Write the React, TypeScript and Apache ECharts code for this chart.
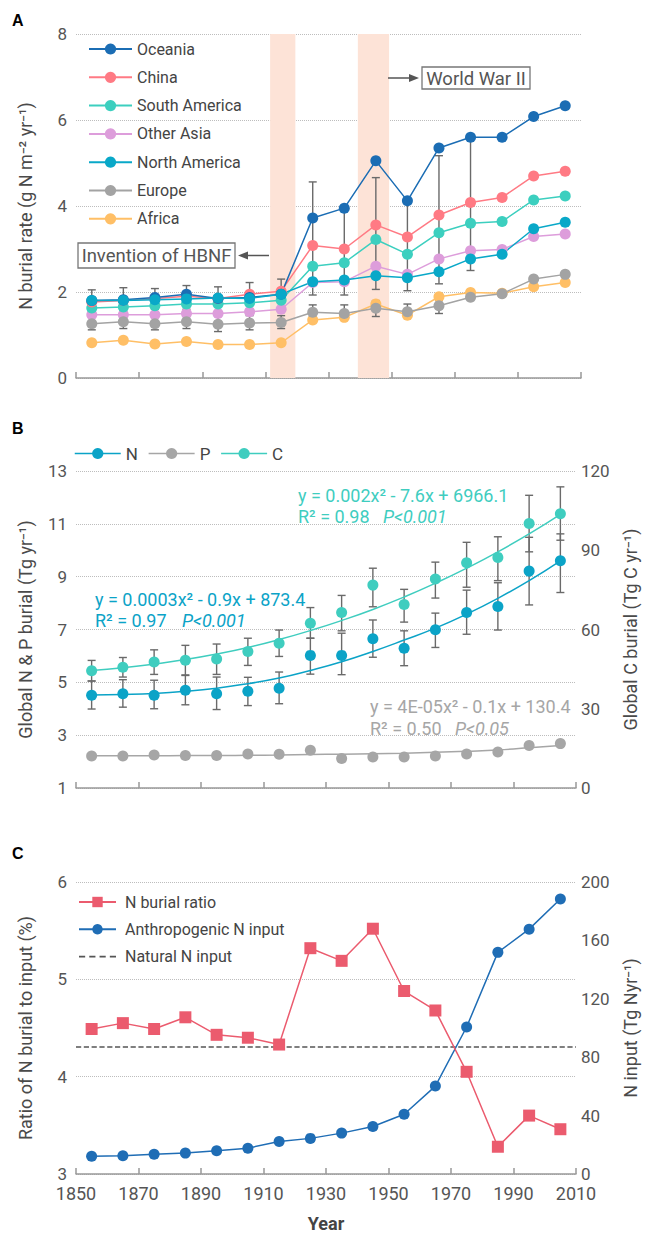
import React, { useEffect, useRef } from "react";
import * as echarts from "echarts";

// ---------- shared ----------
const years = [1855, 1865, 1875, 1885, 1895, 1905, 1915, 1925, 1935, 1945, 1955, 1965, 1975, 1985, 1995, 2005];

// ---------- Panel A: N burial rate by region ----------
const regionNames = ["Oceania", "China", "South America", "Other Asia", "North America", "Europe", "Africa"];
const oceania = [1.8, 1.82, 1.87, 1.95, 1.85, 1.87, 1.95, 3.72, 3.95, 5.05, 4.12, 5.35, 5.6, 5.6, 6.08, 6.33];
const china = [1.77, 1.8, 1.85, 1.9, 1.85, 1.95, 2.02, 3.08, 3.0, 3.56, 3.28, 3.79, 4.08, 4.2, 4.7, 4.81];
const southAmerica = [1.63, 1.65, 1.68, 1.72, 1.72, 1.75, 1.81, 2.6, 2.68, 3.22, 2.88, 3.38, 3.6, 3.64, 4.14, 4.23];
const otherAsia = [1.47, 1.47, 1.47, 1.5, 1.5, 1.54, 1.6, 2.22, 2.24, 2.6, 2.41, 2.77, 2.96, 2.99, 3.29, 3.35];
const northAmerica = [1.8, 1.8, 1.82, 1.84, 1.86, 1.85, 1.95, 2.24, 2.28, 2.38, 2.33, 2.47, 2.77, 2.88, 3.47, 3.62];
const europe = [1.26, 1.31, 1.26, 1.31, 1.25, 1.28, 1.29, 1.53, 1.5, 1.62, 1.54, 1.68, 1.88, 1.96, 2.3, 2.41];
const africa = [0.82, 0.88, 0.79, 0.85, 0.78, 0.78, 0.82, 1.35, 1.41, 1.72, 1.46, 1.89, 1.99, 1.97, 2.12, 2.22];
const errA1Low = [1.55, 1.55, 1.6, 1.6, 1.55, 1.6, 1.65, 1.93, 1.93, 2.06, 2.03, 2.19, 2.5, null, null, null];
const errA1High = [2.05, 2.1, 2.08, 2.15, 2.12, 2.22, 2.3, 4.56, 3.95, 4.66, 4.12, 5.17, 5.6, null, null, null];
const errA2Low = [1.12, 1.15, 1.12, 1.15, 1.08, 1.12, 1.15, 1.42, 1.4, 1.43, 1.45, 1.5, null, null, null, null];
const errA2High = [1.45, 1.5, 1.45, 1.5, 1.45, 1.45, 1.45, 1.7, 1.7, 1.8, 1.72, 1.8, null, null, null, null];
const hbnfBand = [1911.5, 1919.5];
const ww2Band = [1939.3, 1949.2];

// ---------- Panel B: global N, P, C burial ----------
const nBurial = [4.51, 4.57, 4.51, 4.7, 4.57, 4.66, 4.78, 6.02, 6.02, 6.65, 6.29, 6.99, 7.64, 7.87, 9.21, 9.6];
const nLow = [3.99, 4.06, 4.0, 4.15, 3.97, 4.12, 4.19, 5.31, 5.29, 5.95, 5.63, 6.32, 6.82, 6.98, 7.93, 8.4];
const nHigh = [5.05, 5.1, 5.08, 5.26, 5.2, 5.19, 5.39, 6.67, 6.86, 7.36, 6.95, 7.62, 8.49, 8.77, 10.49, 10.62];
const pBurial = [2.21, 2.21, 2.25, 2.23, 2.23, 2.29, 2.28, 2.43, 2.12, 2.17, 2.17, 2.21, 2.29, 2.36, 2.61, 2.68];
const cBurial = [44.4, 45.7, 47.7, 48.4, 48.8, 51.7, 54.8, 62.4, 66.4, 76.8, 69.5, 79.1, 85.3, 87.3, 100.1, 103.8];
const cLow = [40.5, 42.0, 43.0, 42.8, 43.0, 46.4, 49.8, 56.7, 59.5, 68.6, 62.8, 71.9, 76.0, 78.5, 89.4, 93.8];
const cHigh = [48.3, 49.4, 52.3, 54.0, 54.5, 56.7, 59.8, 68.3, 72.9, 83.2, 75.2, 85.5, 93.0, 95.1, 110.8, 114.0];
const nFit = [4.52, 4.54, 4.58, 4.66, 4.78, 4.95, 5.16, 5.45, 5.78, 6.17, 6.6, 7.05, 7.58, 8.18, 8.85, 9.6];
const pFit = [2.22, 2.22, 2.22, 2.23, 2.23, 2.24, 2.25, 2.27, 2.28, 2.3, 2.32, 2.35, 2.39, 2.44, 2.52, 2.61];
const cFit = [44.5, 45.5, 46.9, 48.6, 50.7, 53.2, 56.2, 59.6, 63.4, 67.6, 72.3, 77.5, 83.2, 89.4, 96.2, 103.6];

// ---------- Panel C: ratio and N input ----------
const burialRatio = [4.49, 4.55, 4.49, 4.61, 4.43, 4.4, 4.33, 5.32, 5.19, 5.52, 4.88, 4.68, 4.05, 3.28, 3.6, 3.46];
const anthroInput = [12.1, 12.5, 13.6, 14.3, 15.9, 17.7, 22.3, 24.4, 28.0, 32.5, 40.9, 60.2, 100.7, 151.8, 167.7, 188.4];
const naturalInput = 87;
const xRange = [1850, 2010];

const colors: Record<string, string> = {
  Oceania: "#1b6db4",
  China: "#ff7a84",
  "South America": "#3ccfbf",
  "Other Asia": "#dd9ddb",
  "North America": "#09a8c8",
  Europe: "#a3a3a3",
  Africa: "#ffbf66",
};
const N_COLOR = "#0ba3c7";
const P_COLOR = "#a6a6a6";
const C_COLOR = "#3fcdbf";
const RATIO_COLOR = "#eb5b6e";
const INPUT_COLOR = "#1f6db5";
const FONT = "Roboto";
const DASH_ICON = "path://M0,0h6v1.6h-6z M10,0h6v1.6h-6z M20,0h6v1.6h-6z M30,0h6v1.6h-6z";

const pairs = (ys: (number | null)[]) => years.map((y, i) => [y, ys[i]]);
const triples = (lo: (number | null)[], hi: (number | null)[]) =>
  years.map((y, i) => [y, lo[i], hi[i]]).filter((d) => d[1] != null && d[2] != null);

const errRender = (params: any, api: any) => {
  const x = api.value(0);
  const lo = api.coord([x, api.value(1)]);
  const hi = api.coord([x, api.value(2)]);
  const w = 4;
  const style = { stroke: "#6a6a6a", lineWidth: 1.4 };
  return {
    type: "group",
    children: [
      { type: "line", shape: { x1: lo[0], y1: lo[1], x2: hi[0], y2: hi[1] }, style },
      { type: "line", shape: { x1: lo[0] - w, y1: lo[1], x2: lo[0] + w, y2: lo[1] }, style },
      { type: "line", shape: { x1: hi[0] - w, y1: hi[1], x2: hi[0] + w, y2: hi[1] }, style },
    ],
  };
};

const regionData: Record<string, number[]> = {
  Oceania: oceania,
  China: china,
  "South America": southAmerica,
  "Other Asia": otherAsia,
  "North America": northAmerica,
  Europe: europe,
  Africa: africa,
};
const drawOrder = ["Africa", "Other Asia", "South America", "China", "Oceania", "North America", "Europe"];

const axisLabelStyle = { fontSize: 17, color: "#555", fontFamily: FONT };
const nameStyle = { fontSize: 18, color: "#4a4a4a", fontFamily: FONT };
const splitDotted = { show: true, lineStyle: { type: "dotted", color: "#bdbdbd", width: 1 } };

function txt(text: string, x: number, y: number, fill: string, extra: any = {}) {
  return {
    type: "text",
    x,
    y,
    silent: true,
    style: {
      text,
      fill,
      font: extra.font || `18px ${FONT}`,
      textAlign: extra.align || "left",
      textVerticalAlign: "middle",
      align: extra.align || "left",
      verticalAlign: "middle",
    },
  };
}

export default function App() {
  const ref = useRef<HTMLDivElement>(null);
  useEffect(() => {
    if (!ref.current) return;
    const chart = echarts.init(ref.current, null, { renderer: "svg" });

    const xAxes = [0, 1, 2].map((i) => ({
      gridIndex: i,
      type: "value",
      min: xRange[0],
      max: xRange[1],
      interval: 20,
      axisLine: { show: true, onZero: false, lineStyle: { color: "#999", width: 1.5 } },
      axisTick: { show: true, inside: true, length: 6, lineStyle: { color: "#999", width: 1.5 } },
      splitLine: { show: false },
      axisLabel:
        i === 2
          ? { show: true, fontSize: 18, color: "#555", margin: 10, fontFamily: FONT, formatter: (v: number) => String(v) }
          : { show: false },
      name: i === 2 ? "Year" : "",
      nameLocation: "middle",
      nameGap: 40,
      nameTextStyle: { fontSize: 18, fontWeight: "bold", color: "#444", fontFamily: FONT },
    }));

    const leftY = (grid: number, min: number, max: number, interval: number, name: string) => ({
      gridIndex: grid,
      type: "value",
      position: "left",
      min,
      max,
      interval,
      axisLine: { show: false },
      axisTick: { show: false },
      axisLabel: { ...axisLabelStyle, margin: 9 },
      splitLine: splitDotted,
      name,
      nameLocation: "middle",
      nameRotate: 90,
      nameGap: 42,
      nameTextStyle: nameStyle,
    });
    const rightY = (grid: number, min: number, max: number, interval: number, name: string) => ({
      gridIndex: grid,
      type: "value",
      position: "right",
      min,
      max,
      interval,
      axisLine: { show: false },
      axisTick: { show: false },
      axisLabel: { ...axisLabelStyle, margin: 5 },
      splitLine: { show: false },
      name,
      nameLocation: "middle",
      nameRotate: 90,
      nameGap: 45,
      nameTextStyle: nameStyle,
    });

    const series: any[] = [];
    // bands (panel A)
    series.push({
      type: "line",
      name: "bands",
      xAxisIndex: 0,
      yAxisIndex: 0,
      data: pairs(africa),
      showSymbol: false,
      silent: true,
      lineStyle: { opacity: 0 },
      z: 1,
      markArea: {
        silent: true,
        itemStyle: { color: "#fde3d7" },
        data: [
          [{ xAxis: hbnfBand[0] }, { xAxis: hbnfBand[1] }],
          [{ xAxis: ww2Band[0] }, { xAxis: ww2Band[1] }],
        ],
      },
    });
    series.push({ type: "custom", name: "errA1", xAxisIndex: 0, yAxisIndex: 0, renderItem: errRender, data: triples(errA1Low, errA1High), encode: { x: 0, y: [1, 2] }, silent: true, z: 2 });
    series.push({ type: "custom", name: "errA2", xAxisIndex: 0, yAxisIndex: 0, renderItem: errRender, data: triples(errA2Low, errA2High), encode: { x: 0, y: [1, 2] }, silent: true, z: 2 });
    drawOrder.forEach((n) => {
      series.push({
        type: "line",
        name: n,
        xAxisIndex: 0,
        yAxisIndex: 0,
        data: pairs(regionData[n]),
        symbol: "circle",
        symbolSize: 11,
        color: colors[n],
        lineStyle: { width: 1.5, color: colors[n] },
        itemStyle: { color: colors[n] },
        z: 3,
      });
    });

    // Panel B
    series.push({ type: "custom", name: "errN", xAxisIndex: 1, yAxisIndex: 1, renderItem: errRender, data: triples(nLow, nHigh), encode: { x: 0, y: [1, 2] }, silent: true, z: 2 });
    series.push({ type: "custom", name: "errC", xAxisIndex: 1, yAxisIndex: 2, renderItem: errRender, data: triples(cLow, cHigh), encode: { x: 0, y: [1, 2] }, silent: true, z: 2 });
    series.push({ type: "line", name: "N fit", xAxisIndex: 1, yAxisIndex: 1, data: pairs(nFit), smooth: true, showSymbol: false, lineStyle: { width: 1.5, color: N_COLOR }, z: 3 });
    series.push({ type: "line", name: "P fit", xAxisIndex: 1, yAxisIndex: 1, data: pairs(pFit), smooth: true, showSymbol: false, lineStyle: { width: 1.5, color: P_COLOR }, z: 3 });
    series.push({ type: "line", name: "C fit", xAxisIndex: 1, yAxisIndex: 2, data: pairs(cFit), smooth: true, showSymbol: false, lineStyle: { width: 1.5, color: C_COLOR }, z: 3 });
    [
      ["N", nBurial, N_COLOR, 1],
      ["P", pBurial, P_COLOR, 1],
      ["C", cBurial, C_COLOR, 2],
    ].forEach(([n, d, c, yi]: any) => {
      series.push({
        type: "line",
        name: n,
        xAxisIndex: 1,
        yAxisIndex: yi,
        data: pairs(d),
        symbol: "circle",
        symbolSize: 11,
        color: c,
        itemStyle: { color: c },
        lineStyle: { width: 1.5, color: c, opacity: 0 },
        z: 4,
      });
    });

    // Panel C
    series.push({
      type: "line",
      name: "Natural N input",
      xAxisIndex: 2,
      yAxisIndex: 4,
      data: [
        [xRange[0], naturalInput],
        [xRange[1], naturalInput],
      ],
      showSymbol: false,
      symbol: "none",
      color: "#555",
      itemStyle: { color: "#555" },
      lineStyle: { type: "dashed", width: 1.3, color: "#555" },
      z: 2,
    });
    series.push({
      type: "line",
      name: "Anthropogenic N input",
      xAxisIndex: 2,
      yAxisIndex: 4,
      data: pairs(anthroInput),
      symbol: "circle",
      symbolSize: 11,
      color: INPUT_COLOR,
      itemStyle: { color: INPUT_COLOR },
      lineStyle: { width: 1.5, color: INPUT_COLOR },
      z: 3,
    });
    series.push({
      type: "line",
      name: "N burial ratio",
      xAxisIndex: 2,
      yAxisIndex: 3,
      data: pairs(burialRatio),
      symbol: "rect",
      symbolSize: 12,
      color: RATIO_COLOR,
      itemStyle: { color: RATIO_COLOR },
      lineStyle: { width: 1.5, color: RATIO_COLOR },
      z: 3,
    });

    const graphic: any[] = [
      txt("A", 12, 20, "#000", { font: `bold 16px "Liberation Sans"` }),
      txt("B", 12, 428, "#000", { font: `bold 16px "Liberation Sans"` }),
      txt("C", 12, 853, "#000", { font: `bold 16px "Liberation Sans"` }),
      // HBNF annotation
      { type: "rect", silent: true, shape: { x: 78, y: 243, width: 157, height: 25 }, style: { fill: "#fff", stroke: "#777", lineWidth: 1.3 }, z: 10 },
      { ...txt("Invention of HBNF", 156.5, 256, "#555", { align: "center", font: `18.5px ${FONT}` }), z: 11 },
      { type: "line", silent: true, shape: { x1: 269, y1: 255.5, x2: 245, y2: 255.5 }, style: { stroke: "#555", lineWidth: 1.5 }, z: 10 },
      { type: "polygon", silent: true, shape: { points: [[238, 255.5], [248, 251.5], [248, 259.5]] }, style: { fill: "#555" }, z: 10 },
      // WWII annotation
      { type: "rect", silent: true, shape: { x: 422, y: 67, width: 108, height: 22 }, style: { fill: "#fff", stroke: "#777", lineWidth: 1.3 }, z: 10 },
      { ...txt("World War II", 476, 78.5, "#555", { align: "center", font: `18.5px ${FONT}` }), z: 11 },
      { type: "line", silent: true, shape: { x1: 388, y1: 78, x2: 412, y2: 78 }, style: { stroke: "#555", lineWidth: 1.5 }, z: 10 },
      { type: "polygon", silent: true, shape: { points: [[419, 78], [409, 74], [409, 82]] }, style: { fill: "#555" }, z: 10 },
      // equations
      txt("y = 0.002x² - 7.6x + 6966.1", 298, 495, C_COLOR),
      txt("R² = 0.98", 298, 516, C_COLOR),
      txt("P<0.001", 383, 516, C_COLOR, { font: `italic 18px ${FONT}` }),
      txt("y = 0.0003x² - 0.9x + 873.4", 95, 599, N_COLOR),
      txt("R² = 0.97", 95, 620, N_COLOR),
      txt("P<0.001", 182, 620, N_COLOR, { font: `italic 18px ${FONT}` }),
      txt("y = 4E-05x² - 0.1x + 130.4", 370, 706, P_COLOR),
      txt("R² = 0.50", 370, 728, P_COLOR),
      txt("P<0.05", 455, 728, P_COLOR, { font: `italic 18px ${FONT}` }),
    ];

    chart.setOption({
      animation: false,
      textStyle: { fontFamily: FONT },
      grid: [
        { left: 76, right: 66, top: 34, height: 344 },
        { left: 76, right: 66, top: 471, height: 317 },
        { left: 76, right: 66, top: 882, height: 293 },
      ],
      xAxis: xAxes,
      yAxis: [
        leftY(0, 0, 8, 2, "N burial rate (g N m⁻² yr⁻¹)"),
        leftY(1, 1, 13, 2, "Global N & P burial (Tg yr⁻¹)"),
        rightY(1, 0, 120, 30, "Global C burial (Tg C yr⁻¹)"),
        leftY(2, 3, 6, 1, "Ratio of N burial to input (%)"),
        rightY(2, 0, 200, 40, "N input (Tg Nyr⁻¹)"),
      ],
      legend: [
        {
          orient: "vertical",
          left: 83,
          top: 36,
          itemWidth: 43,
          itemHeight: 14,
          itemGap: 12.3,
          textStyle: { fontSize: 16, color: "#444", fontFamily: FONT },
          data: regionNames,
          selectedMode: false,
        },
        {
          orient: "horizontal",
          left: 69,
          top: 440,
          itemWidth: 46,
          itemHeight: 14,
          itemGap: 10,
          textStyle: { fontSize: 17, color: "#444", fontFamily: FONT },
          lineStyle: { width: 1.5, opacity: 1 },
          data: ["N", "P", "C"],
          selectedMode: false,
        },
        {
          orient: "vertical",
          left: 73,
          top: 889,
          itemWidth: 37,
          itemHeight: 13,
          itemGap: 11.3,
          textStyle: { fontSize: 16, color: "#444", fontFamily: FONT, padding: [0, 0, 0, 4] },
          data: ["N burial ratio", "Anthropogenic N input", { name: "Natural N input", icon: DASH_ICON }],
          selectedMode: false,
        },
      ],
      series,
      graphic,
    });
    return () => chart.dispose();
  }, []);
  return <div ref={ref} style={{ position: "absolute", left: 0, top: 0, width: 647, height: 1233 }} />;
}
